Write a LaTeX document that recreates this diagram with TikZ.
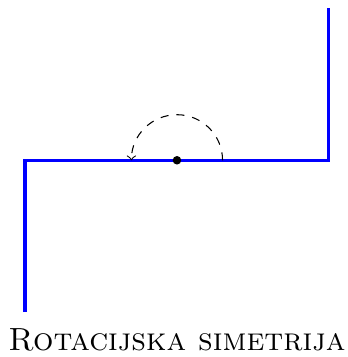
\documentclass[tikz,border=0pt]{standalone}
\usetikzlibrary{arrows}

\begin{document}
\begin{tikzpicture}[x=1cm, y=1cm]
  \useasboundingbox (-2.33,-2.59) rectangle (2.24,2.11);
  \coordinate (bl) at (-2,-2);
  \coordinate (tr) at (2,2);
  \draw[blue, very thick] (bl) -- (-2,0) -- (2,0) -- (tr);
  \node[circle, fill, inner sep=0pt, minimum size=3.2pt] (centar) at (0,0) {};
  \draw[dashed, ->] (0.6,0) arc (0:180:0.6);
  \node[anchor=base, font=\large] (naslov) at (0,-2.5) {\textsc{Rotacijska simetrija}};
\end{tikzpicture}
\end{document}
